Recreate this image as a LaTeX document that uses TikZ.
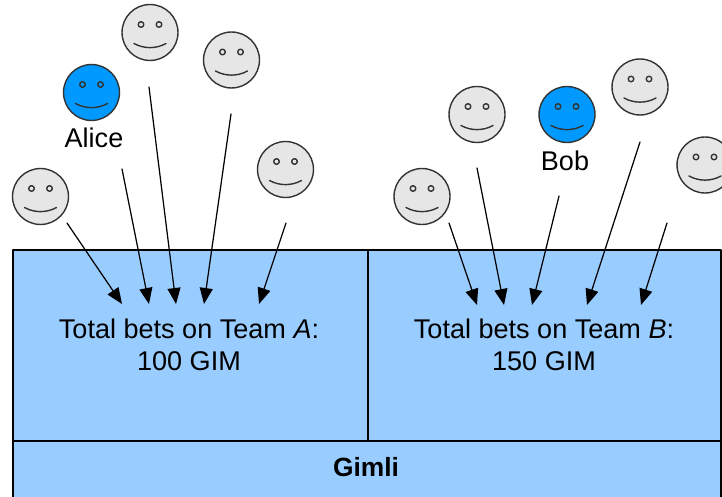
\documentclass[tikz,border=0pt]{standalone}
\usepackage{fontspec}
\setmainfont{Liberation Sans}
\usepackage{xcolor}
\usetikzlibrary{arrows.meta, calc}
\definecolor{boxblue}{RGB}{153, 204, 255}
\definecolor{faceblue}{RGB}{0, 153, 255}
\definecolor{facegrey}{RGB}{230, 230, 230}
\definecolor{faceline}{RGB}{51, 51, 51}
\tikzset{
	face/.style={circle, draw=faceline, line width=0.8pt, minimum size=1.12cm, inner sep=0pt},
	facepart/.style={draw=faceline, line width=0.8pt},
	potbox/.style={draw=black, fill=boxblue, line width=0.7pt},
	potlabel/.style={font=\fontsize{15.4}{18.2}\selectfont, align=center, inner sep=0pt},
	bet/.style={->, line width=0.7pt},
}
\begin{document}
\begin{tikzpicture}[line cap=round, line join=round, >={Triangle[length=0.32cm, width=0.26cm]}, x=0.02cm, y=-0.02cm]
	\useasboundingbox (0,0) rectangle (722,496);

	% pots and contract
	\draw[potbox] (13,250) rectangle (368,441);
	\draw[potbox] (368,250) rectangle (721,441);
	\draw[potbox] (13,441) rectangle (721,510);
	\node[potlabel] (teamA) at (189,345) {Total bets on Team \textit{A}:\\100 GIM};
	\node[potlabel] (teamB) at (544,345) {Total bets on Team \textit{B}:\\150 GIM};
	\node[potlabel, font=\fontsize{15}{18}\selectfont\bfseries] (gimli) at (366,467) {Gimli};

	% bettors
	\foreach \name/\fx/\fy/\col in {a1/150/32.5/facegrey, a2/231.5/60/facegrey, alice/91.5/92.5/faceblue, a4/285.5/169.5/facegrey, a5/40.5/196.5/facegrey,
		b1/477/114.5/facegrey, bob/567/114.5/faceblue, b3/640/87/facegrey, b4/705/165/facegrey, b5/422/196.5/facegrey} {
		\node[face, fill=\col] (\name) at (\fx,\fy) {};
		\draw[facepart] ($(\name)+(-9,-8)$) circle (2.8);
		\draw[facepart] ($(\name)+(9,-8)$) circle (2.8);
		\draw[facepart] ($(\name)+(-16,11)$) .. controls ($(\name)+(-6,16.5)$) and ($(\name)+(6,16.5)$) .. ($(\name)+(16,11)$);
	}
	\node[potlabel] (alicename) at (94,138) {Alice};
	\node[potlabel] (bobname) at (565,161) {Bob};

	% bets going into the pots
	\foreach \name/\sx/\sy/\tx/\ty in {a5/67/223/122/304, alice/122/169/149/304, a1/149/87/176/304, a2/231/114/204/304, a4/286/223/259/304,
		b5/449/223/477/305, b1/477/168/504/305, bob/559/196/532/305, b3/640/142/587/305, b4/667/223/641/305} {
		\coordinate (\name from) at (\sx,\sy);
		\coordinate (\name to) at (\tx,\ty);
		\draw[bet] (\name from) -- (\name to);
	}
\end{tikzpicture}
\end{document}
